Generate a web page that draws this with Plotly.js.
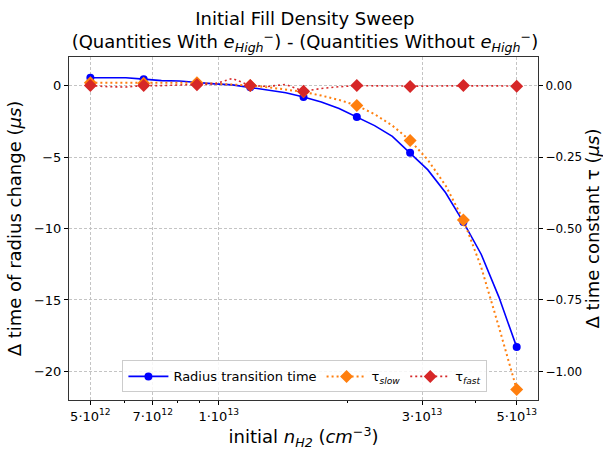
<!DOCTYPE html>
<html>
<head>
<meta charset="utf-8">
<script src="https://cdn.plot.ly/plotly-3.0.1.min.js"></script>
<style>html,body{margin:0;padding:0;background:#fff;}#chart{width:603px;height:456px;}</style>
</head>
<body>
<div id="chart"></div>
<script>
// Initial H2 density (cm^-3), fine sampling used for the curves
const nDense = [5.000e12, 5.503e12, 6.058e12, 6.668e12, 7.339e12, 8.078e12, 8.891e12, 9.787e12,
  1.0772e13, 1.1857e13, 1.3051e13, 1.4365e13, 1.5811e13, 1.7404e13, 1.9156e13, 2.1085e13,
  2.3208e13, 2.5545e13, 2.8117e13, 3.0948e13, 3.4064e13, 3.7494e13, 4.1270e13, 4.5426e13, 5.000e13];
// Sample densities where markers are shown
const nSample = [5.000e12, 6.668e12, 8.891e12, 1.1857e13, 1.5811e13, 2.1085e13, 2.8117e13, 3.7494e13, 5.000e13];

// Delta time of radius change (us) - left axis
const radiusDense = [0.55, 0.55, 0.55, 0.45, 0.35, 0.32, 0.2, 0.12, 0.05, -0.12, -0.3, -0.5, -0.8,
  -1.15, -1.6, -2.2, -2.8, -3.55, -4.7, -5.9, -7.5, -9.55, -11.8, -14.8, -18.3];
const radiusSample = [0.55, 0.45, 0.2, -0.12, -0.8, -2.2, -4.7, -9.55, -18.3];

// Delta tau_slow (us) - right axis
const tauSlowDense = [0.01, 0.01, 0.01, 0.008, 0.008, 0.009, 0.01, 0.007, 0.004, 0.0, -0.006, -0.013,
  -0.022, -0.035, -0.05, -0.07, -0.1, -0.14, -0.192, -0.26, -0.35, -0.47, -0.635, -0.845, -1.063];
const tauSlowSample = [0.01, 0.008, 0.01, 0.0, -0.022, -0.07, -0.192, -0.47, -1.063];

// Delta tau_fast (us) - right axis
const tauFastDense = [0, -0.004, -0.005, 0, 0, 0.002, 0.003, 0.006, 0.025, 0, -0.003, 0.004, -0.02,
  -0.01, -0.004, 0, -0.001, -0.002, -0.003, -0.002, -0.001, 0, -0.001, -0.001, -0.002];
const tauFastSample = [0, 0, 0.003, 0, -0.02, 0, -0.003, 0, -0.002];

const xTickVals = [5e12, 7e12, 1e13, 3e13, 5e13];
const xTickText = ['5\u00b710<sup>12</sup>', '7\u00b710<sup>12</sup>', '1\u00b710<sup>13</sup>', '3\u00b710<sup>13</sup>', '5\u00b710<sup>13</sup>'];
const xMinorVals = [6e12, 8e12, 9e12, 2e13, 4e13];
const yLeftTicks = [0, -5, -10, -15, -20];
const yRightTicks = [0, -0.25, -0.5, -0.75, -1.0];

const BLUE = '#0000ff', ORANGE = '#ff7f0e', RED = '#d62728';
const FONT = 'DejaVu Sans, sans-serif';
const GRID = '#c4c4c4';

const traces = [
  {x: nDense, y: radiusDense, mode: 'lines', line: {color: BLUE, width: 1.6}, showlegend: false, hoverinfo: 'skip', yaxis: 'y'},
  {x: nSample, y: radiusSample, mode: 'markers', marker: {color: BLUE, size: 8, symbol: 'circle'}, showlegend: false, yaxis: 'y'},
  {x: [null], y: [null], mode: 'lines+markers', name: 'Radius transition time', line: {color: BLUE, width: 1.6}, marker: {color: BLUE, size: 8}, yaxis: 'y'},

  {x: nDense, y: tauSlowDense, mode: 'lines', line: {color: ORANGE, width: 2, dash: '2px,3px'}, showlegend: false, hoverinfo: 'skip', yaxis: 'y2'},
  {x: nSample, y: tauSlowSample, mode: 'markers', marker: {color: ORANGE, size: 10, symbol: 'diamond'}, showlegend: false, yaxis: 'y2'},
  {x: [null], y: [null], mode: 'lines+markers', name: '\u03c4<sub><i>slow</i></sub>', line: {color: ORANGE, width: 2, dash: '2px,3px'}, marker: {color: ORANGE, size: 10, symbol: 'diamond'}, yaxis: 'y2'},

  {x: nDense, y: tauFastDense, mode: 'lines', line: {color: RED, width: 1.6, dash: '2px,3px'}, showlegend: false, hoverinfo: 'skip', yaxis: 'y2'},
  {x: nSample, y: tauFastSample, mode: 'markers', marker: {color: RED, size: 10, symbol: 'diamond'}, showlegend: false, yaxis: 'y2'},
  {x: [null], y: [null], mode: 'lines+markers', name: '\u03c4<sub><i>fast</i></sub>', line: {color: RED, width: 1.6, dash: '2px,3px'}, marker: {color: RED, size: 10, symbol: 'diamond'}, yaxis: 'y2'}
];

const layout = {
  width: 603, height: 456,
  margin: {l: 69, r: 65, t: 57, b: 56},
  paper_bgcolor: '#fff', plot_bgcolor: '#fff',
  font: {family: FONT, color: '#000', size: 13},
  title: {
    text: 'Initial Fill Density Sweep<br>(Quantities With <i>e</i><sub><i>High</i></sub><sup>\u2212</sup>) - (Quantities Without <i>e</i><sub><i>High</i></sub><sup>\u2212</sup>)',
    font: {family: FONT, size: 18, color: '#000'},
    x: 0.503, xanchor: 'center', xref: 'paper',
    yref: 'container', y: 0.945, yanchor: 'top'
  },
  xaxis: {
    type: 'log',
    range: [Math.log10(4.455e12), Math.log10(5.61e13)],
    tickmode: 'array', tickvals: xTickVals, ticktext: xTickText,
    ticks: 'outside', ticklen: 4, tickcolor: '#000',
    tickfont: {family: FONT, size: 13},
    showgrid: true, gridcolor: GRID, griddash: '3px,2px', gridwidth: 1,
    minor: {tickmode: 'array', tickvals: xMinorVals, ticks: 'outside', ticklen: 2, tickcolor: '#000', showgrid: false},
    showline: true, linecolor: '#333', linewidth: 1, mirror: true,
    zeroline: false,
    title: {text: 'initial <i>n</i><sub><i>H2</i></sub> (<i>cm</i><sup>\u22123</sup>)', font: {family: FONT, size: 18}, standoff: 5}
  },
  yaxis: {
    range: [-22, 2],
    tickmode: 'array', tickvals: yLeftTicks,
    ticks: 'outside', ticklen: 4, tickcolor: '#000',
    tickfont: {family: FONT, size: 13},
    showgrid: true, gridcolor: GRID, griddash: '3px,2px', gridwidth: 1,
    showline: true, linecolor: '#333', linewidth: 1,
    zeroline: false,
    title: {text: '\u0394 time of radius change (<i>\u03bcs</i>)', font: {family: FONT, size: 18}, standoff: 7}
  },
  yaxis2: {
    overlaying: 'y', side: 'right',
    range: [-1.1, 0.1],
    tickmode: 'array', tickvals: yRightTicks, tickformat: '.2f',
    ticks: 'outside', ticklen: 4, tickcolor: '#000',
    tickfont: {family: FONT, size: 12},
    showgrid: false,
    showline: true, linecolor: '#333', linewidth: 1,
    zeroline: false,
    title: {text: '\u0394 time constant \u03c4 (<i>\u03bcs</i>)', font: {family: FONT, size: 18}, standoff: 4}
  },
  legend: {
    orientation: 'h', x: 0.503, xanchor: 'center', y: 0.022, yanchor: 'bottom',
    bgcolor: 'rgba(255,255,255,0.85)', bordercolor: '#cccccc', borderwidth: 1,
    font: {family: FONT, size: 13},
    itemwidth: 40, entrywidth: 0
  },
  showlegend: true
};

Plotly.newPlot('chart', traces, layout, {displayModeBar: false, staticPlot: true});
</script>
</body>
</html>
